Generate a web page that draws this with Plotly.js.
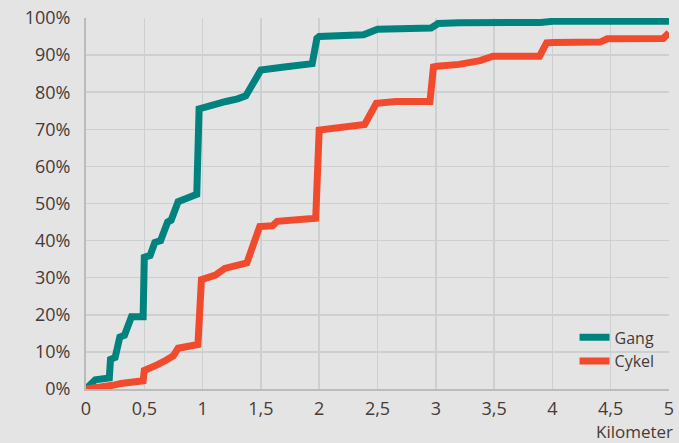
<!DOCTYPE html>
<html>
<head>
<meta charset="utf-8">
<script src="https://cdn.plot.ly/plotly-3.0.1.min.js"></script>
<style>html,body{margin:0;padding:0;background:#e5e4e4;}#chart{width:679px;height:443px;}</style>
</head>
<body>
<div id="chart"></div>
<script>
// Gang (walking) cumulative share by distance
var gangKm = [0, 0.08, 0.2, 0.21, 0.25, 0.29, 0.33, 0.39, 0.49, 0.5, 0.55, 0.59, 0.64, 0.70, 0.73, 0.79, 0.87, 0.95, 0.97, 1.0, 1.1, 1.2, 1.3, 1.37, 1.5, 1.55, 1.7, 1.94, 1.98, 2.0, 2.2, 2.38, 2.5, 2.9, 2.96, 3.02, 3.2, 3.9, 4.0, 5.0];
var gangPct = [0, 2.5, 3, 8, 8.5, 14, 14.5, 19.5, 19.5, 35.5, 36, 39.5, 40, 45, 45.5, 50.5, 51.5, 52.5, 75.5, 75.8, 76.5, 77.5, 78.2, 79, 86, 86.3, 86.8, 87.7, 94.5, 95, 95.3, 95.5, 97, 97, 97.3, 98.5, 98.7, 98.8, 99.1, 99.1];
// Cykel (cycling) cumulative share by distance
var cykelKm = [0, 0.1, 0.23, 0.3, 0.43, 0.49, 0.5, 0.55, 0.61, 0.69, 0.75, 0.79, 0.92, 0.96, 0.99, 1.11, 1.19, 1.29, 1.38, 1.49, 1.6, 1.64, 1.94, 1.97, 2.0, 2.18, 2.39, 2.49, 2.66, 2.95, 2.98, 3.01, 3.2, 3.38, 3.49, 3.89, 3.95, 4.01, 4.41, 4.47, 4.95, 5.0];
var cykelPct = [0, 0.3, 1, 1.5, 2, 2.2, 5, 5.5, 6.5, 7.8, 9, 11, 11.5, 12, 29.5, 30.7, 32.5, 33.5, 34, 43.8, 44, 45.2, 45.8, 46, 69.8, 70.3, 71.3, 77, 77.5, 77.5, 86.8, 87, 87.5, 88.5, 89.7, 89.7, 93.3, 93.4, 93.5, 94.4, 94.5, 96];
var seriesNames = ["Gang", "Cykel"];
var xTickVals = [0, 0.5, 1, 1.5, 2, 2.5, 3, 3.5, 4, 4.5, 5];
var xTickText = ["0", "0,5", "1", "1,5", "2", "2,5", "3", "3,5", "4", "4,5", "5"];
var yTickVals = [0, 10, 20, 30, 40, 50, 60, 70, 80, 90, 100];
var yTickText = ["0%", "10%", "20%", "30%", "40%", "50%", "60%", "70%", "80%", "90%", "100%"];
var xAxisLabel = "Kilometer";

var textColor = "#463b37";
var fontFam = "'Open Sans', 'Noto Sans', sans-serif";

var traces = [
  {x: gangKm, y: gangPct, name: seriesNames[0], mode: "lines", type: "scatter",
   line: {color: "#00827f", width: 7}},
  {x: cykelKm, y: cykelPct, name: seriesNames[1], mode: "lines", type: "scatter",
   line: {color: "#f14a2d", width: 7}}
];

var layout = {
  width: 679, height: 443,
  margin: {l: 86, r: 10, t: 18, b: 54, pad: 0},
  paper_bgcolor: "#e5e4e4",
  plot_bgcolor: "#e5e4e4",
  font: {family: fontFam, color: textColor, size: 18},
  showlegend: true,
  legend: {
    x: 0.838, y: 0.185, xanchor: "left", yanchor: "top",
    bgcolor: "rgba(0,0,0,0)",
    font: {family: fontFam, size: 16, color: textColor},
    tracegroupgap: 0
  },
  xaxis: {
    range: [0, 5], tickvals: xTickVals, ticktext: xTickText,
    showgrid: true, gridcolor: "#ccd0d0", gridwidth: 1.5,
    showline: true, linecolor: "#b8bcbc", linewidth: 2,
    zeroline: false, ticks: "", ticklabelstandoff: 2,
    tickfont: {size: 18, color: textColor}, fixedrange: true
  },
  yaxis: {
    range: [0, 100], tickvals: yTickVals, ticktext: yTickText,
    showgrid: true, gridcolor: "#ccd0d0", gridwidth: 1.5,
    showline: true, linecolor: "#b8bcbc", linewidth: 2,
    zeroline: false, ticks: "", ticklabelstandoff: 10,
    tickfont: {size: 18, color: textColor}, fixedrange: true
  },
  annotations: [{
    text: xAxisLabel, xref: "paper", yref: "paper", x: 1, y: 0,
    xanchor: "right", yanchor: "middle", xshift: 6, yshift: -42.5,
    showarrow: false, font: {size: 17, color: textColor, family: fontFam}
  }]
};

Plotly.newPlot("chart", traces, layout, {displayModeBar: false, staticPlot: true});
</script>
</body>
</html>
